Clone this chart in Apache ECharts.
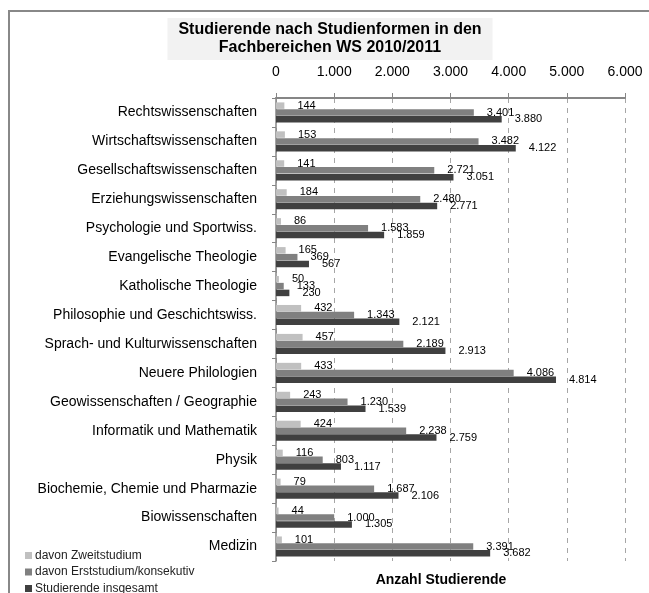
<!DOCTYPE html>
<html lang="de">
<head>
    <meta charset="UTF-8">
    <title>Studierende nach Studienformen</title>
    <script src="https://cdn.jsdelivr.net/npm/echarts@6/dist/echarts.min.js"></script>
    <style>
        body {margin: 0;}
        #main {width: 649px;height: 593px;}
    </style>
</head>
<body>
    <div id="main"></div>
    <script>
    // Fachbereiche (von oben nach unten)
    var fachbereiche = [
        'Rechtswissenschaften', 'Wirtschaftswissenschaften', 'Gesellschaftswissenschaften',
        'Erziehungswissenschaften', 'Psychologie und Sportwiss.', 'Evangelische Theologie',
        'Katholische Theologie', 'Philosophie und Geschichtswiss.', 'Sprach- und Kulturwissenschaften',
        'Neuere Philologien', 'Geowissenschaften / Geographie', 'Informatik und Mathematik',
        'Physik', 'Biochemie, Chemie und Pharmazie', 'Biowissenschaften', 'Medizin'
    ];
    var serienNamen = ['davon Zweitstudium', 'davon Erststudium/konsekutiv', 'Studierende insgesamt'];
    var zweitstudium = [144, 153, 141, 184, 86, 165, 50, 432, 457, 433, 243, 424, 116, 79, 44, 101];
    var erststudium = [3401, 3482, 2721, 2480, 1583, 369, 133, 1343, 2189, 4086, 1230, 2238, 803, 1687, 1000, 3391];
    var insgesamt = [3880, 4122, 3051, 2771, 1859, 567, 230, 2121, 2913, 4814, 1539, 2759, 1117, 2106, 1305, 3682];

    function fmt(v) {
        return String(v).replace(/\B(?=(\d{3})+(?!\d))/g, '.');
    }

    var myChart = echarts.init(document.getElementById('main'));

    var labelCfg = {
        show: true,
        position: 'right',
        distance: 13,
        color: '#000',
        fontSize: 11,
        fontFamily: 'Liberation Sans',
        formatter: function (p) { return fmt(p.value); }
    };

    function serie(name, data, color) {
        return {
            name: name,
            type: 'bar',
            data: data,
            barWidth: 6.5,
            barGap: '5%',
            itemStyle: {color: color},
            label: labelCfg,
            animation: false
        };
    }

    // eine Legende pro Zeile, damit nichts umbricht
    var legenden = serienNamen.map(function (n, i) {
        return {
            orient: 'vertical',
            left: 25,
            top: 549.5 + i * 16.5,
            icon: 'rect',
            itemWidth: 7,
            itemHeight: 7,
            padding: 0,
            textStyle: {fontSize: 12, color: '#222', padding: [0, 0, 0, -2]},
            data: [n]
        };
    });

    var option = {
        textStyle: {fontFamily: 'Liberation Sans'},
        title: [{
            text: 'Studierende nach Studienformen in den\nFachbereichen WS 2010/2011',
            left: 319,
            textAlign: 'center',
            top: 18,
            backgroundColor: '#f2f2f2',
            padding: [3, 11, 3, 11],
            textStyle: {fontSize: 16, fontWeight: 'bold', color: '#000', lineHeight: 18}
        }, {
            text: 'Anzahl Studierende',
            left: 441,
            textAlign: 'center',
            top: 573,
            padding: 0,
            textStyle: {fontSize: 14, fontWeight: 'bold', color: '#000'}
        }],
        legend: legenden,
        graphic: [{
            type: 'rect',
            shape: {x: 9, y: 11, width: 680, height: 620},
            style: {fill: 'none', stroke: '#888', lineWidth: 2},
            silent: true
        }],
        grid: {left: 276, right: 24, top: 98, bottom: 32},
        xAxis: {
            type: 'value',
            position: 'top',
            min: 0,
            max: 6000,
            interval: 1000,
            axisLine: {show: true, lineStyle: {color: '#868686', width: 2}},
            axisTick: {show: true, length: 5, lineStyle: {color: '#868686'}},
            axisLabel: {fontSize: 14, color: '#000', margin: 19, formatter: fmt},
            splitLine: {show: true, lineStyle: {color: '#a6a6a6', type: [5, 5]}}
        },
        yAxis: {
            type: 'category',
            inverse: true,
            data: fachbereiche,
            axisLine: {show: true, lineStyle: {color: '#868686', width: 1.5}},
            axisTick: {show: true, length: 4, lineStyle: {color: '#868686'}},
            axisLabel: {fontSize: 14, color: '#000', margin: 19}
        },
        series: [
            serie(serienNamen[0], zweitstudium, '#c0c0c0'),
            serie(serienNamen[1], erststudium, '#808080'),
            serie(serienNamen[2], insgesamt, '#404040')
        ]
    };
    myChart.setOption(option);
    </script>
</body>
</html>
